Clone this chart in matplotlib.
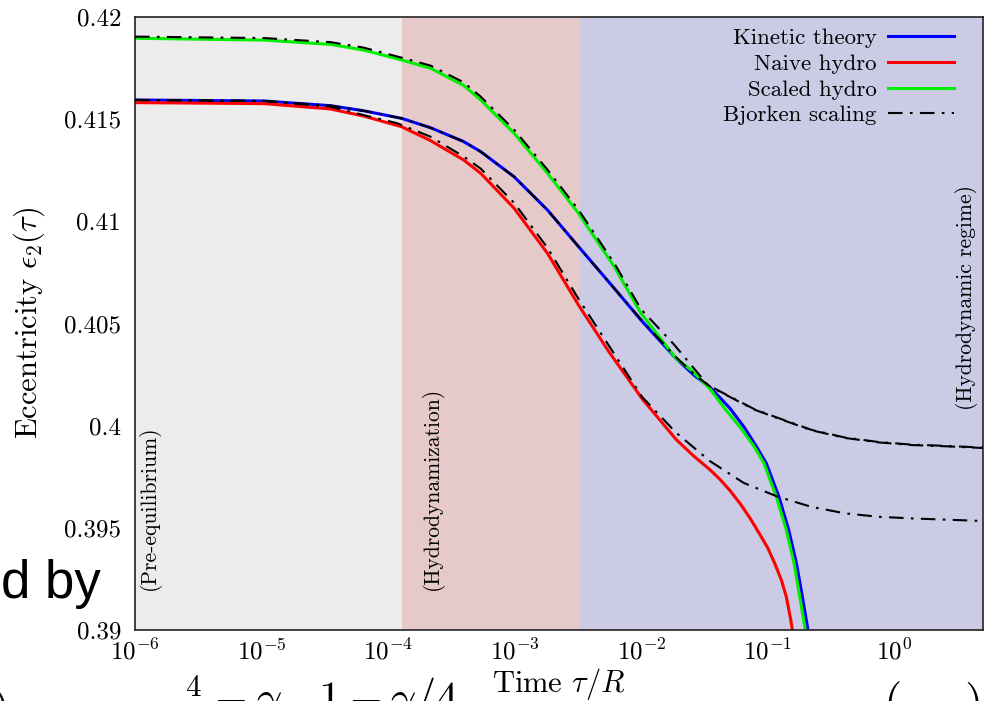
import matplotlib.pyplot as plt
import numpy as np

plt.rcParams['font.family'] = ['cmr10', 'DejaVu Serif']
plt.rcParams['mathtext.fontset'] = 'cm'
plt.rcParams['axes.formatter.use_mathtext'] = True
plt.rcParams['axes.unicode_minus'] = False

# regions (tau/R)
region_edges = [1e-6, 1.28e-4, 3.2e-3, 5.0]
region_colors = ['#ececec', '#e6caca', '#cbcbe6']
region_names = ['(Pre-equilibrium)', '(Hydrodynamization)', '(Hydrodynamic regime)']

# log10(tau/R) and eccentricity
lt_kin = [-6.0, -4.98, -4.456, -4.193, -3.894, -3.665, -3.403, -3.269, -3.005, -2.741,
          -2.496, -2.214, -2.003, -1.726, -1.58, -1.459, -1.30, -1.185, -1.092, -1.013,
          -0.913, -0.836, -0.775, -0.728, -0.688, -0.66]
eps_kin = [0.41594, 0.41589, 0.41566, 0.41541, 0.41504, 0.41458, 0.41390, 0.41341, 0.41218, 0.41055,
           0.40876, 0.40672, 0.40517, 0.40329, 0.40245, 0.40189, 0.40085, 0.39990, 0.39899, 0.39816,
           0.39652, 0.39490, 0.39327, 0.39163, 0.39016, 0.38900]

lt_naive = [-6.0, -4.98, -4.456, -4.193, -3.894, -3.665, -3.403, -3.269, -3.005, -2.741,
            -2.496, -2.26, -1.993, -1.726, -1.593, -1.459, -1.38, -1.299, -1.219, -1.139,
            -1.066, -1.0, -0.947, -0.894, -0.855, -0.820, -0.807, -0.78]
eps_naive = [0.41581, 0.41576, 0.41550, 0.41515, 0.41463, 0.41395, 0.41300, 0.41235, 0.41064, 0.40843,
             0.40590, 0.40365, 0.40131, 0.39933, 0.39855, 0.39785, 0.39738, 0.39682, 0.39618, 0.39545,
             0.39470, 0.39400, 0.39327, 0.39245, 0.39163, 0.39051, 0.39000, 0.38880]

lt_scaled = [-6.0, -4.98, -4.456, -4.193, -3.894, -3.665, -3.403, -3.269, -3.005, -2.741,
             -2.496, -2.214, -2.003, -1.726, -1.606, -1.459, -1.343, -1.211, -1.110, -1.031,
             -0.934, -0.855, -0.794, -0.749, -0.709, -0.68]
eps_scaled = [0.41896, 0.41887, 0.41866, 0.41838, 0.41790, 0.41749, 0.41665, 0.41594, 0.41431, 0.41235,
              0.41039, 0.40778, 0.40550, 0.40329, 0.40272, 0.40181, 0.40085, 0.39985, 0.39899, 0.39816,
              0.39652, 0.39490, 0.39327, 0.39163, 0.39016, 0.38900]

# Bjorken scaling curves
lt_bj_scaled = [-6.0, -4.98, -4.456, -4.193, -3.894, -3.665, -3.403, -3.269, -3.005, -2.741,
                -2.496, -2.214, -2.003, -1.739, -1.475, -1.277, -1.105, -0.934, -0.762, -0.659,
                -0.392, -0.125, 0.142, 0.408, 0.72]
eps_bj_scaled = [0.41904, 0.41897, 0.41877, 0.41850, 0.41801, 0.41762, 0.41680, 0.41610, 0.41448, 0.41252,
                 0.41056, 0.40795, 0.40570, 0.40395, 0.40199, 0.40135, 0.40080, 0.40041, 0.40003, 0.39980,
                 0.39942, 0.39920, 0.39907, 0.39901, 0.39892]

lt_bj_kin = [-6.0, -4.98, -4.456, -4.193, -3.894, -3.665, -3.403, -3.269, -3.005, -2.741,
             -2.496, -2.214, -2.003, -1.726, -1.58, -1.459, -1.277, -1.105, -0.934, -0.762,
             -0.659, -0.392, -0.125, 0.142, 0.408, 0.72]
eps_bj_kin = [0.41594, 0.41589, 0.41566, 0.41541, 0.41504, 0.41458, 0.41390, 0.41341, 0.41218, 0.41055,
              0.40876, 0.40672, 0.40520, 0.40335, 0.40250, 0.40192, 0.40133, 0.40078, 0.40039, 0.40001,
              0.39978, 0.39940, 0.39918, 0.39905, 0.39899, 0.39890]

lt_bj_naive = [-6.0, -4.98, -4.456, -4.193, -3.928, -3.665, -3.401, -3.269, -3.005, -2.741,
               -2.496, -2.26, -1.993, -1.726, -1.459, -1.192, -0.925, -0.659, -0.392, -0.125,
               0.142, 0.72]
eps_bj_naive = [0.41594, 0.41589, 0.41561, 0.41520, 0.41480, 0.41414, 0.41316, 0.41258, 0.41090, 0.40870,
                0.40620, 0.40395, 0.40140, 0.39966, 0.39827, 0.39720, 0.39653, 0.39603, 0.39571, 0.39554,
                0.39546, 0.39533]

yticks = [0.39, 0.395, 0.40, 0.405, 0.41, 0.415, 0.42]
ytick_labels = ['0.39', '0.395', '0.4', '0.405', '0.41', '0.415', '0.42']
xticks = [1e-6, 1e-5, 1e-4, 1e-3, 1e-2, 1e-1, 1e0]
xtick_labels = [r'$10^{-6}$', r'$10^{-5}$', r'$10^{-4}$', r'$10^{-3}$',
                r'$10^{-2}$', r'$10^{-1}$', r'$10^{0}$']

fig, ax = plt.subplots(figsize=(9.88, 7.01), dpi=100)
fig.subplots_adjust(left=135/988, right=983/988, bottom=71/701, top=684/701)

for i in range(3):
    ax.axvspan(region_edges[i], region_edges[i+1], color=region_colors[i], lw=0, zorder=0)

lw_c = 2.2
ax.plot(10**np.array(lt_kin), eps_kin, color='#0000ff', lw=lw_c, label='Kinetic theory', zorder=2)
ax.plot(10**np.array(lt_naive), eps_naive, color='#ff0000', lw=lw_c, label='Naive hydro', zorder=2)
ax.plot(10**np.array(lt_scaled), eps_scaled, color='#00ee00', lw=lw_c, label='Scaled hydro', zorder=2)

dd = (7, 3.5, 1.3, 3.5)
ax.plot(10**np.array(lt_bj_scaled), eps_bj_scaled, color='black', lw=1.5, dashes=dd,
        label='Bjorken scaling', zorder=3)
ax.plot(10**np.array(lt_bj_kin), eps_bj_kin, color='black', lw=1.5, dashes=dd, zorder=3)
ax.plot(10**np.array(lt_bj_naive), eps_bj_naive, color='black', lw=1.5, dashes=dd, zorder=3)

ax.set_xscale('log')
ax.set_xlim(1e-6, 5.0)
ax.set_ylim(0.39, 0.42)
ax.set_xticks(xticks)
ax.set_xticklabels(xtick_labels)
ax.xaxis.set_minor_locator(plt.NullLocator())
ax.set_yticks(yticks)
ax.set_yticklabels(ytick_labels)
ax.tick_params(length=0, labelsize=18)
ax.tick_params(axis='y', pad=10)
ax.tick_params(axis='x', pad=6)
for s in ax.spines.values():
    s.set_linewidth(1.2)
    s.set_color('#222222')

ax.set_xlabel(r'Time $\tau/R$', fontsize=22, labelpad=1)
ax.set_ylabel(r'Eccentricity $\epsilon_2(\tau)$', fontsize=22, labelpad=12)

# region labels
ax.text(1.31e-6, 0.39196, region_names[0], rotation=90, ha='center', va='bottom', fontsize=15.5)
ax.text(2.25e-4, 0.39196, region_names[1], rotation=90, ha='center', va='bottom', fontsize=15.5)
ax.text(3.73, 0.40077, region_names[2], rotation=90, ha='center', va='bottom', fontsize=15.5)

ax.legend(loc='upper right', bbox_to_anchor=(0.977, 0.997), borderaxespad=0,
          frameon=False, markerfirst=False, fontsize=16.5,
          handlelength=2.9, labelspacing=0.25, handletextpad=0.5)

# leftovers of the surrounding slide
fig.text(0.001, 1 - 598/701, 'd by', fontsize=38, family='Liberation Sans', ha='left', va='baseline')
fig.text(185/988, 1 - 712/701, r'$\frac{4}{3}-\gamma\ \ \ 1-\gamma/4$', fontsize=32, ha='left', va='baseline')
fig.text(893/988, 1 - 716/701, '(', fontsize=34, ha='center', va='baseline')
fig.text(973/988, 1 - 716/701, ')', fontsize=34, ha='center', va='baseline')
fig.text(0.0, 1 - 722/701, ')', fontsize=34, ha='center', va='baseline')

fig.savefig('out.png', dpi=100)
